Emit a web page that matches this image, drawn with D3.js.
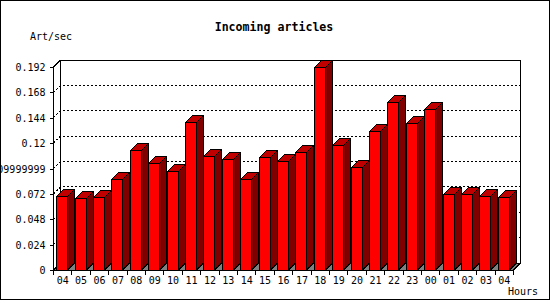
<!DOCTYPE html>
<html>
<head>
<meta charset="utf-8">
<script src="https://cdn.jsdelivr.net/npm/d3@7"></script>
<style>
	html, body { margin: 0; padding: 0; background: #fff; }
	svg { display: block; }
</style>
</head>
<body>
<svg id="chart"></svg>
<script>
// hour labels along the x axis (the first and last are both "04")
const hours = ["04", "05", "06", "07", "08", "09", "10", "11", "12", "13", "14", "15", "16",
	"17", "18", "19", "20", "21", "22", "23", "00", "01", "02", "03", "04"];

// incoming articles per second, one value per hour
const artPerSec = [0.0697, 0.0678, 0.0688, 0.0858, 0.1132, 0.1010, 0.0934, 0.1397, 0.1076,
	0.1050, 0.0861, 0.1069, 0.1031, 0.1113, 0.1918, 0.1182, 0.0974, 0.1315, 0.1589, 0.1387,
	0.1520, 0.0719, 0.0719, 0.0700, 0.0690];

// y ticks and their labels as printed on the chart
const yTicks = [0, 0.024, 0.048, 0.072, 0.096, 0.12, 0.144, 0.168, 0.192];
const yTickLabels = ["0", "0.024", "0.048", "0.072", "0.09999999", "0.12", "0.144", "0.168", "0.192"];

class BarChart3D
{
	constructor(elem)
	{
		this.container = elem;
	}

	drawChart(labels, values)
	{
		let svgWidth = 550, svgHeight = 300;
		let depth = 7;
		let left = 53.5, right = 513.5, bottom = 270, top = 67;
		let fontMono = "'DejaVu Sans Mono', monospace";

		let svg = d3.select(this.container)
			.attr("width", svgWidth)
			.attr("height", svgHeight)
			.attr("shape-rendering", "crispEdges");

		svg.html(null);

		// outer border
		svg.append("rect")
			.attr("x", 0.5).attr("y", 0.5)
			.attr("width", svgWidth - 1).attr("height", svgHeight - 1)
			.attr("fill", "#fff")
			.attr("stroke", "#000");

		//scales
		let x = d3.scaleBand()
			.domain(d3.range(labels.length))
			.range([left, right])
			.paddingInner(0)
			.paddingOuter(0);
		let y = d3.scaleLinear()
			.domain([0, yTicks[yTicks.length - 1]])
			.range([bottom, top]);

		let g = svg.append("g");

		// floor (grey), seen only between the bars
		g.append("polygon")
			.attr("points", [[left, bottom], [right, bottom], [right + depth, bottom - depth], [left + depth, bottom - depth]].join(" "))
			.attr("fill", "#808080")
			.attr("stroke", "#000");

		// back wall frame
		g.append("path")
			.attr("d", "M" + (left + depth) + "," + (bottom - depth) + "V" + (y(yTicks[yTicks.length - 1]) - depth)
				+ "H" + (right + depth) + "V" + (bottom - depth))
			.attr("fill", "none")
			.attr("stroke", "#000");

		// dotted grid lines on the back wall, with the slanted link to the front axis
		g.selectAll(".grid")
			.data(yTicks.slice(1, -1))
			.enter()
			.append("path")
			.attr("class", "grid")
			.attr("d", d => "M" + left + "," + y(d) + "L" + (left + depth) + "," + (y(d) - depth) + "H" + (right + depth))
			.attr("fill", "none")
			.attr("stroke", "#000")
			.attr("stroke-dasharray", "2,2");

		// corner link at the top of the axis
		g.append("line")
			.attr("x1", left).attr("y1", y(yTicks[yTicks.length - 1]))
			.attr("x2", left + depth).attr("y2", y(yTicks[yTicks.length - 1]) - depth)
			.attr("stroke", "#000");

		//append y-axis
		let yAxis = g.append("g")
			.attr("transform", "translate(" + left + ",0)")
			.call(d3.axisLeft(y)
				.tickValues(yTicks)
				.tickSize(4)
				.tickPadding(4)
				.tickFormat((d, i) => yTickLabels[i]));
		yAxis.select(".domain").remove();
		yAxis.selectAll("text")
			.attr("font-family", fontMono)
			.attr("font-size", "10px")
			.attr("fill", "#000")
			.attr("dy", "0.36em");
		g.append("line")
			.attr("x1", left).attr("y1", y(yTicks[yTicks.length - 1]))
			.attr("x2", left).attr("y2", bottom)
			.attr("stroke", "#000");

		//append x-axis
		let xAxis = g.append("g")
			.attr("transform", "translate(0," + bottom + ")")
			.call(d3.axisBottom(x)
				.tickSize(0)
				.tickPadding(7)
				.tickFormat(i => labels[i]));
		xAxis.select(".domain").remove();
		xAxis.selectAll("text")
			.attr("font-family", fontMono)
			.attr("font-size", "10px")
			.attr("fill", "#000");
		g.selectAll(".xtick")
			.data(d3.range(labels.length + 1))
			.enter()
			.append("line")
			.attr("class", "xtick")
			.attr("x1", i => left + i * x.bandwidth())
			.attr("x2", i => left + i * x.bandwidth())
			.attr("y1", bottom)
			.attr("y2", bottom + 5)
			.attr("stroke", "#000");

		// bars: front face, top face and side face
		let bw = x.bandwidth();
		let fw = Math.round(bw * 0.6);
		let bars = g.selectAll(".bar")
			.data(values)
			.enter()
			.append("g")
			.attr("class", "bar");

		let bx = (d, i) => Math.round(x(i) + bw * 0.15) + 0.5;
		let by = d => Math.round(y(d)) + 0.5;

		bars.append("polygon")
			.attr("points", (d, i) => [[bx(d, i) + fw, by(d)], [bx(d, i) + fw + depth, by(d) - depth],
				[bx(d, i) + fw + depth, bottom - depth], [bx(d, i) + fw, bottom]].join(" "))
			.attr("fill", "#800000")
			.attr("stroke", "#000");

		bars.append("polygon")
			.attr("points", (d, i) => [[bx(d, i), by(d)], [bx(d, i) + depth, by(d) - depth],
				[bx(d, i) + fw + depth, by(d) - depth], [bx(d, i) + fw, by(d)]].join(" "))
			.attr("fill", "#c00000")
			.attr("stroke", "#000");

		bars.append("rect")
			.attr("x", bx)
			.attr("y", by)
			.attr("width", fw)
			.attr("height", d => bottom - by(d))
			.attr("fill", "#ff0000")
			.attr("stroke", "#000");

		// front baseline
		g.append("line")
			.attr("x1", left).attr("y1", bottom)
			.attr("x2", right).attr("y2", bottom)
			.attr("stroke", "#000");

		// titles
		svg.append("text")
			.attr("x", 274)
			.attr("y", 31)
			.attr("text-anchor", "middle")
			.attr("font-family", fontMono)
			.attr("font-weight", "bold")
			.attr("font-size", "11.6px")
			.text("Incoming articles");

		svg.append("text")
			.attr("x", 30)
			.attr("y", 40)
			.attr("font-family", fontMono)
			.attr("font-size", "10px")
			.text("Art/sec");

		svg.append("text")
			.attr("x", 538)
			.attr("y", 295)
			.attr("text-anchor", "end")
			.attr("font-family", fontMono)
			.attr("font-size", "10px")
			.text("Hours");
	}
}

let chart = new BarChart3D(document.getElementById("chart"));
chart.drawChart(hours, artPerSec);
</script>
</body>
</html>
